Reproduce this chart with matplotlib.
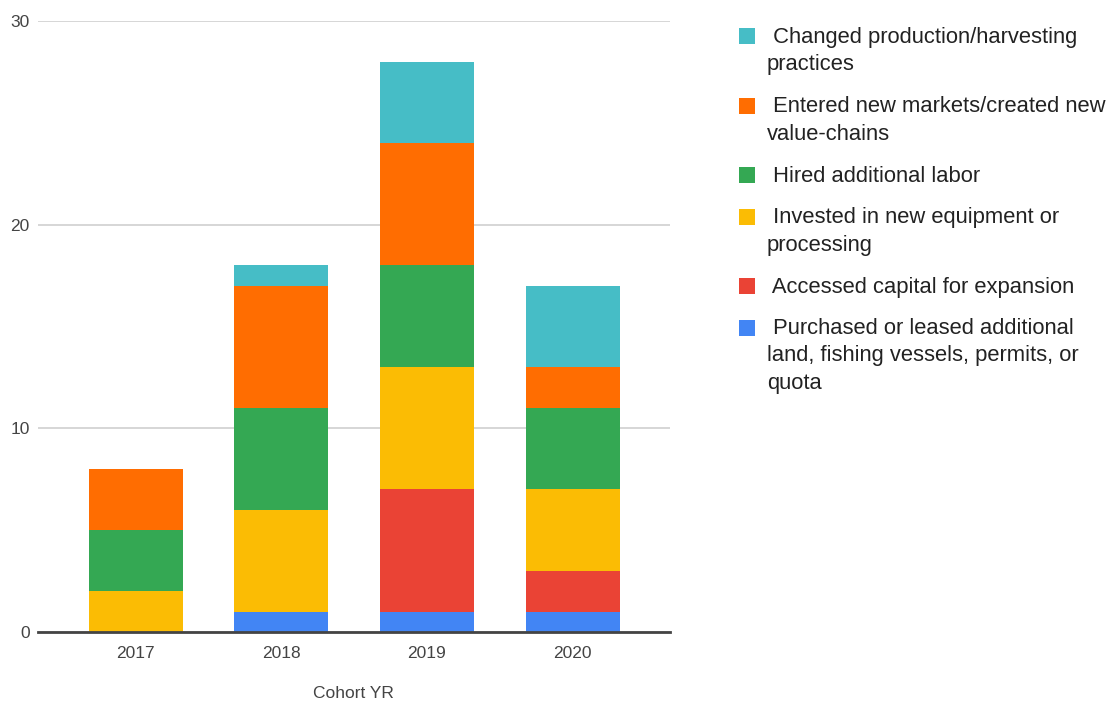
import matplotlib
matplotlib.use('Agg')
import matplotlib.pyplot as plt
from matplotlib.patches import Rectangle
import numpy as np

plt.rcParams['font.family'] = ['Liberation Sans', 'DejaVu Sans']

years = ['2017', '2018', '2019', '2020']

# stacked from the bottom up
purchased = [0, 1, 1, 1]
capital = [0, 0, 6, 2]
invested = [2, 5, 6, 4]
hired = [3, 5, 5, 4]
entered = [3, 6, 6, 2]
changed = [0, 1, 4, 4]

series = [
    (['Purchased or leased additional', 'land, fishing vessels, permits, or', 'quota'], purchased, '#4285F4'),
    (['Accessed capital for expansion'], capital, '#EA4335'),
    (['Invested in new equipment or', 'processing'], invested, '#FBBC04'),
    (['Hired additional labor'], hired, '#34A853'),
    (['Entered new markets/created new', 'value-chains'], entered, '#FF6D01'),
    (['Changed production/harvesting', 'practices'], changed, '#46BDC6'),
]

W, H = 1114, 702
fig = plt.figure(figsize=(W / 100, H / 100), dpi=100)
ax = fig.add_axes([0.034, 0.0997, 0.567, 0.8703])

x = np.arange(len(years))
bottom = np.zeros(len(years))
for label, vals, color in series:
    ax.bar(x, vals, 0.645, bottom=bottom, color=color, zorder=3)
    bottom += np.array(vals)

ax.set_xlim(-0.673, 3.666)
ax.set_ylim(0, 30)
ax.set_yticks([0, 10, 20, 30])
ax.set_xticks(x)
ax.set_xticklabels(years)
ax.tick_params(length=0, labelsize=12.5, labelcolor='#444444')
ax.tick_params(axis='x', pad=10)
ax.tick_params(axis='y', pad=6)
ax.grid(axis='y', color='#d0d0d0', linewidth=1.2, zorder=0)
for s in ['top', 'right', 'left']:
    ax.spines[s].set_visible(False)
ax.spines['bottom'].set_color('#444444')
ax.spines['bottom'].set_linewidth(2)
ax.spines['bottom'].set_zorder(4)
ax.set_xlabel('Cohort YR', fontsize=12.5, color='#444444', labelpad=18)

# legend, top entry first, each line placed on its own baseline (pixels from top)
y = 28
for lines, vals, color in reversed(series):
    fig.add_artist(Rectangle((739 / W, 1 - (y + 16) / H), 16 / W, 16 / H,
                             facecolor=color, edgecolor='none', transform=fig.transFigure))
    for i, line in enumerate(lines):
        txt = (' ' + line) if i == 0 else line
        fig.text(767 / W, 1 - (y + 15 + 27 * i) / H, txt, fontsize=15.8,
                 color='#222222', va='baseline', ha='left')
    y += 41.5 + 28 * (len(lines) - 1)

fig.savefig('out.png', dpi=100, facecolor='white')
